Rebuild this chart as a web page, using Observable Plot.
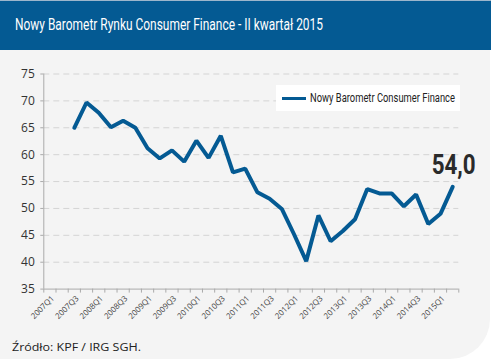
<!DOCTYPE html>
<html>
<head>
<meta charset="utf-8">
<script src="https://cdn.jsdelivr.net/npm/d3@7"></script>
<script src="https://cdn.jsdelivr.net/npm/@observablehq/plot@0.6"></script>
<style>
  html, body { margin:0; padding:0; background:#fff; }
  #wrap { position:relative; width:491px; height:361px; overflow:hidden; }
  #panel { position:absolute; left:0; top:0; width:490px; height:359px; background:#f4f4f4; border-bottom-right-radius:40px; }
  #title { position:absolute; left:0; top:0; width:491px; height:50px; background:#045a93; border-top:1px solid #9db6cc; box-sizing:border-box; }
  #title span { position:absolute; left:15px; top:13px; font-family:"Liberation Sans Narrow","Roboto","Open Sans",sans-serif; font-size:17px; color:#fff; white-space:nowrap; transform-origin:0 0; }
  #chart { position:absolute; left:0; top:51px; }
  #legend { position:absolute; left:276px; top:85px; width:184px; height:26px; background:#fff; }
  #legend .sw { position:absolute; left:6px; top:12px; width:24px; height:3px; background:#045a93; }
  #legend span { position:absolute; left:34px; top:6px; font-family:"Liberation Sans Narrow","Roboto","Open Sans",sans-serif; font-size:12px; color:#222; white-space:nowrap; transform-origin:0 0; }
  #source { position:absolute; left:12px; top:339px; font-family:"Open Sans",sans-serif; font-size:11px; color:#222; white-space:nowrap; transform-origin:0 0; }
</style>
</head>
<body>
<div id="wrap">
  <div id="panel"></div>
  <div id="title"><span id="titletext"></span></div>
  <div id="chart"></div>
  <div id="legend"><div class="sw"></div><span id="legtext"></span></div>
  <div id="source"></div>
</div>
<script>
const titleText = "Nowy Barometr Rynku Consumer Finance - II kwartał 2015";
const seriesName = "Nowy Barometr Consumer Finance";
const sourceText = "Źródło: KPF /  IRG SGH.";
const quarters = ["2007Q1","2007Q2","2007Q3","2007Q4","2008Q1","2008Q2","2008Q3","2008Q4",
  "2009Q1","2009Q2","2009Q3","2009Q4","2010Q1","2010Q2","2010Q3","2010Q4",
  "2011Q1","2011Q2","2011Q3","2011Q4","2012Q1","2012Q2","2012Q3","2012Q4",
  "2013Q1","2013Q2","2013Q3","2013Q4","2014Q1","2014Q2","2014Q3","2014Q4",
  "2015Q1","2015Q2"];
const values = [null,null,65.0,69.7,67.8,65.1,66.3,65.0,
  61.2,59.3,60.8,58.7,62.6,59.4,63.5,56.7,
  57.4,53.0,51.8,49.9,45.2,40.2,48.7,43.9,
  45.8,48.0,53.6,52.8,52.8,50.4,52.6,47.1,
  49.0,54.0];
const yTicks = [35,40,45,50,55,60,65,70,75];
const tickLabels = quarters.filter((q,i)=>i%2===0);

const lineColor = "#045a93";
const data = quarters.map((q,i)=>({q, i, v: values[i]})).filter(d=>d.v!=null);
const labelRows = quarters.map((q,i)=>({q,i})).filter(d=>tickLabels.includes(d.q));
const last = data[data.length-1];
const lastLabel = last.v.toFixed(1).replace(".",",");

const chart = Plot.plot({
  width: 491, height: 310,
  marginTop: 22.5, marginBottom: 72.4, marginLeft: 43.3, marginRight: 32.7,
  style: {background:"transparent", fontFamily:"Open Sans, sans-serif", fontSize:"11px", color:"#333", overflow:"visible"},
  x: {type:"linear", domain:[0, quarters.length], axis:null},
  y: {domain:[35,75], axis:null},
  marks: [
    Plot.gridY(yTicks.slice(1), {stroke:"#d4d4d4", strokeOpacity:1, strokeDasharray:"6,4"}),
    Plot.axisY(yTicks, {tickSize:3, tickPadding:6, stroke:"#aaa", fill:"#333", fontSize:12, label:null, tickFormat: d=>String(d)}),
    Plot.ruleX([0], {stroke:"#aaa"}),
    Plot.ruleY([35], {stroke:"#aaa"}),
    Plot.axisX(d3.range(0, quarters.length+1), {tickSize:4, tickFormat:()=>"", label:null, stroke:"#aaa"}),
    Plot.text(labelRows, {x: d=>d.i+0.5, y: ()=>35, text:"q", rotate:-45, textAnchor:"end", dx:3, dy:8, fontSize:8, fill:"#444"}),
    Plot.lineY(data, {x: d=>d.i+0.5, y:"v", stroke:lineColor, strokeWidth:4, strokeLinejoin:"miter"}),
    Plot.text([last], {x: d=>d.i+0.5, y:"v", text: ()=>lastLabel, fontSize:28, fontWeight:"bold", fill:"#2a2a2a", dx:1, dy:-22, fontFamily:"Liberation Sans Narrow, Roboto, sans-serif"})
  ]
});
document.getElementById("chart").appendChild(chart);
d3.select(chart).selectAll("text").filter(function(){ return this.textContent === lastLabel; })
  .attr("textLength", 44).attr("lengthAdjust", "spacingAndGlyphs");

function fit(el, text, w) {
  el.textContent = text;
  const cw = el.getBoundingClientRect().width;
  if (cw > 0) el.style.transform = `scaleX(${w/cw})`;
}
fit(document.getElementById("titletext"), titleText, 308);
fit(document.getElementById("legtext"), seriesName, 145);
fit(document.getElementById("source"), sourceText, 129);
</script>
</body>
</html>
